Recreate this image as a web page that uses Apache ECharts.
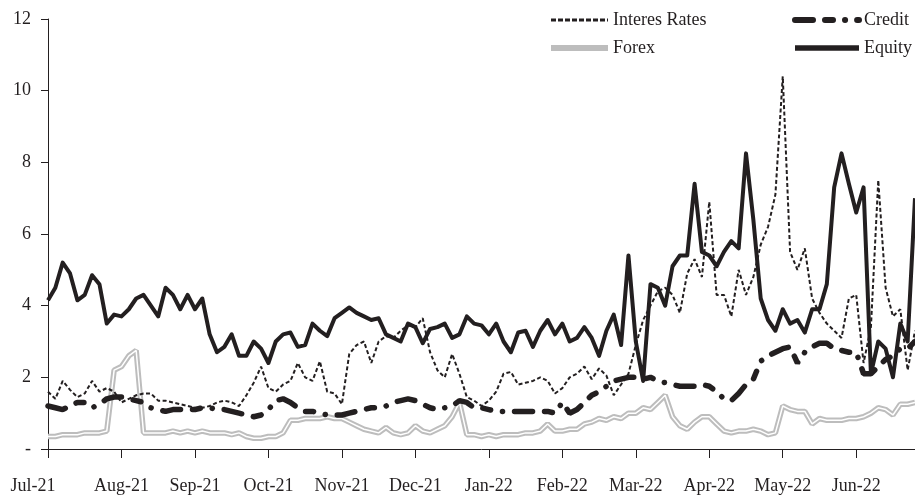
<!DOCTYPE html>
<html>
<head>
<meta charset="utf-8">
<script src="https://cdn.jsdelivr.net/npm/echarts@6/dist/echarts.min.js"></script>
<style>
  html, body { margin: 0; padding: 0; background: #fff; }
  #chart { width: 915px; height: 495px; }
</style>
</head>
<body>
<div id="chart"></div>
<script>
// month labels; each month is split into 10 steps (last one partly shown)
const months = ['Jul-21', 'Aug-21', 'Sep-21', 'Oct-21', 'Nov-21', 'Dec-21',
  'Jan-22', 'Feb-22', 'Mar-22', 'Apr-22', 'May-22', 'Jun-22'];
const stepsPerMonth = 10;
const lastMonthSteps = 9;

const equity = [
  4.15, 4.5, 5.2, 4.9, 4.15, 4.3, 4.85, 4.6, 3.5, 3.75,
  3.7, 3.9, 4.2, 4.3, 4.0, 3.7, 4.5, 4.3, 3.9, 4.3,
  3.9, 4.2, 3.2, 2.7, 2.85, 3.2, 2.6, 2.6, 3.0, 2.8,
  2.4, 3.0, 3.2, 3.25, 2.85, 2.9, 3.5, 3.3, 3.15, 3.65,
  3.8, 3.95, 3.8, 3.7, 3.6, 3.65, 3.2, 3.1, 3.0, 3.5,
  3.4, 2.95, 3.35, 3.4, 3.5, 3.1, 3.2, 3.7, 3.5, 3.45,
  3.2, 3.5, 3.0, 2.7, 3.25, 3.3, 2.85, 3.3, 3.6, 3.2,
  3.5, 3.0, 3.1, 3.4, 3.1, 2.6, 3.3, 3.75, 2.9, 5.4,
  3.0, 1.9, 4.6, 4.5, 4.0, 5.1, 5.4, 5.4, 7.4, 5.5,
  5.4, 5.1, 5.5, 5.8, 5.6, 8.25, 6.4, 4.2, 3.6, 3.3,
  3.9, 3.5, 3.6, 3.25, 3.9, 3.9, 4.6, 7.3, 8.25, 7.4,
  6.6, 7.3, 2.1, 3.0, 2.8, 2.0, 3.5, 3.0, 7.0
];
const interestRates = [
  1.6, 1.4, 1.9, 1.65, 1.45, 1.55, 1.9, 1.6, 1.7, 1.6,
  1.3, 1.4, 1.5, 1.55, 1.55, 1.35, 1.35, 1.3, 1.25, 1.2,
  1.15, 1.15, 1.2, 1.3, 1.35, 1.3, 1.2, 1.5, 1.85, 2.3,
  1.7, 1.6, 1.8, 1.9, 2.4, 2.0, 1.9, 2.45, 1.6, 1.55,
  1.25, 2.65, 2.9, 3.0, 2.4, 3.0, 3.15, 3.1, 3.3, 3.45,
  3.4, 3.65, 2.7, 2.2, 2.0, 2.65, 2.1, 1.45, 1.35, 1.2,
  1.35, 1.6, 2.1, 2.15, 1.8, 1.85, 1.9, 2.0, 1.9, 1.55,
  1.7, 2.0, 2.1, 2.3, 1.95, 2.25, 2.05, 1.5, 1.8, 2.1,
  2.9, 3.6, 4.0, 4.4, 4.5, 4.3, 3.8, 4.9, 5.3, 4.8,
  6.9, 4.3, 4.3, 3.7, 5.0, 4.3, 4.8, 5.7, 6.2, 7.1,
  10.4, 5.5, 5.0, 5.6, 4.2, 3.8, 3.5, 3.3, 3.1, 4.2,
  4.3, 2.4, 3.4, 7.5, 4.5, 3.7, 3.9, 2.2, 3.3
];
const credit = [
  1.2, 1.15, 1.1, 1.2, 1.3, 1.3, 1.15, 1.25, 1.4, 1.45,
  1.45, 1.4, 1.35, 1.3, 1.15, 1.1, 1.05, 1.1, 1.1, 1.1,
  1.1, 1.15, 1.15, 1.1, 1.1, 1.05, 1.0, 0.95, 0.9, 0.95,
  1.1, 1.35, 1.4, 1.3, 1.15, 1.05, 1.05, 1.0, 0.95, 0.95,
  0.95, 1.0, 1.05, 1.1, 1.15, 1.15, 1.2, 1.3, 1.35, 1.4,
  1.35, 1.25, 1.15, 1.1, 1.15, 1.2, 1.35, 1.3, 1.15, 1.15,
  1.1, 1.05, 1.05, 1.05, 1.05, 1.05, 1.05, 1.05, 1.05, 1.0,
  1.3, 1.0, 1.1, 1.3, 1.5, 1.6, 1.75, 1.9, 1.95, 2.0,
  2.0, 1.95, 2.0, 1.9, 1.85, 1.8, 1.75, 1.75, 1.75, 1.8,
  1.75, 1.6, 1.4, 1.35, 1.55, 1.8, 1.95, 2.45, 2.6, 2.7,
  2.8, 2.85, 2.4, 2.7, 2.85, 2.95, 2.95, 2.8, 2.75, 2.7,
  2.7, 2.1, 2.1, 2.3, 2.5, 2.6, 2.8, 2.8, 3.0
];
const forex = [
  0.35, 0.35, 0.4, 0.4, 0.4, 0.45, 0.45, 0.45, 0.5, 2.2,
  2.3, 2.6, 2.75, 0.45, 0.45, 0.45, 0.45, 0.5, 0.45, 0.5,
  0.45, 0.5, 0.45, 0.45, 0.45, 0.4, 0.45, 0.35, 0.3, 0.3,
  0.35, 0.35, 0.45, 0.8, 0.8, 0.85, 0.85, 0.85, 0.9, 0.85,
  0.85, 0.75, 0.65, 0.55, 0.5, 0.45, 0.6, 0.45, 0.4, 0.45,
  0.65, 0.5, 0.45, 0.55, 0.65, 0.9, 1.3, 0.4, 0.4, 0.35,
  0.4, 0.35, 0.4, 0.4, 0.4, 0.45, 0.45, 0.5, 0.7, 0.5,
  0.5, 0.55, 0.55, 0.7, 0.75, 0.85, 0.8, 0.9, 0.85, 1.0,
  1.0, 1.15, 1.1, 1.3, 1.5, 0.9, 0.65, 0.55, 0.75, 0.9,
  0.9, 0.7, 0.5, 0.45, 0.5, 0.5, 0.55, 0.5, 0.4, 0.45,
  1.2, 1.1, 1.05, 1.05, 0.7, 0.85, 0.8, 0.8, 0.8, 0.85,
  0.85, 0.9, 1.0, 1.15, 1.1, 0.95, 1.25, 1.25, 1.3
];

// build categories: "Jul-21|0", "Jul-21|1", ...
let categories = [];
months.forEach(function (m, mi) {
  let n = mi === months.length - 1 ? lastMonthSteps : stepsPerMonth;
  for (let k = 0; k < n; k++) categories.push(m + '|' + k);
});

const ink = '#231f20';
const serif = 'Liberation Serif';
const forexGrey = '#bdbdbd';
const creditDash = [18, 12, 8, 12, 0.1, 12];

var myChart = echarts.init(document.getElementById('chart'));
var legendBase = {
  orient: 'vertical',
  top: 11, padding: 0,
  itemHeight: 14, itemGap: 10,
  textStyle: { fontFamily: serif, fontSize: 18, color: ink },
  // hide the little circle, keep the line sample
  itemStyle: { opacity: 0, color: 'rgba(0,0,0,0)', borderWidth: 0 },
  selectedMode: false
};
var option = {
  animation: false,
  backgroundColor: '#fff',
  grid: { left: 48, right: 0, top: 19, bottom: 44 },
  legend: [
    Object.assign({}, legendBase, {
      left: 548, itemWidth: 57,
      data: [
        { name: 'Interes Rates', lineStyle: { width: 3, type: [5, 2] } },
        { name: 'Forex', lineStyle: { width: 6 } }
      ]
    }),
    Object.assign({}, legendBase, {
      left: 792, itemWidth: 64,
      data: [
        { name: 'Credit', lineStyle: { width: 6, type: creditDash, cap: 'round' } },
        { name: 'Equity', lineStyle: { width: 5.5 } }
      ]
    })
  ],
  xAxis: {
    type: 'category',
    data: categories,
    boundaryGap: false,
    axisLine: { lineStyle: { color: ink, width: 1 } },
    axisTick: {
      length: 9,
      interval: function (idx) { return idx % stepsPerMonth === 0; },
      lineStyle: { color: ink }
    },
    axisLabel: {
      interval: function (idx) { return idx % stepsPerMonth === 0; },
      margin: 28,
      fontFamily: serif, fontSize: 18, color: ink,
      formatter: function (v, idx) {
        let name = v.split('|')[0];
        return idx === 0 ? '{first|' + name + '}' : name;
      },
      rich: {
        first: { fontFamily: serif, fontSize: 18, color: ink, padding: [0, 30, 0, 0] }
      }
    },
    splitLine: { show: false }
  },
  yAxis: {
    type: 'value',
    min: 0, max: 12, interval: 2,
    axisLine: { show: true, lineStyle: { color: ink, width: 1 } },
    axisTick: { show: true, length: 7, lineStyle: { color: ink } },
    axisLabel: {
      margin: 17,
      fontFamily: serif, fontSize: 18, color: ink,
      formatter: function (v) { return v === 0 ? '-' : v; }
    },
    splitLine: { show: false }
  },
  series: [
    {
      name: 'Forex', type: 'line', data: forex, symbol: 'none',
      lineStyle: { color: forexGrey, width: 5.5 },
      itemStyle: { color: forexGrey }
    },
    {
      name: 'forex-inner', type: 'line', data: forex, symbol: 'none',
      lineStyle: { color: '#ffffff', width: 1.5 },
      silent: true
    },
    {
      name: 'Credit', type: 'line', data: credit, symbol: 'none',
      lineStyle: { color: ink, width: 5.5, type: creditDash, cap: 'round' },
      itemStyle: { color: ink }
    },
    {
      name: 'Interes Rates', type: 'line', data: interestRates, symbol: 'none',
      lineStyle: { color: ink, width: 2, type: [4, 2.5] },
      itemStyle: { color: ink }
    },
    {
      name: 'Equity', type: 'line', data: equity, symbol: 'none',
      lineStyle: { color: ink, width: 4, join: 'round' },
      itemStyle: { color: ink }
    }
  ]
};
myChart.setOption(option);
window.addEventListener('resize', function () { myChart.resize(); });
</script>
</body>
</html>
